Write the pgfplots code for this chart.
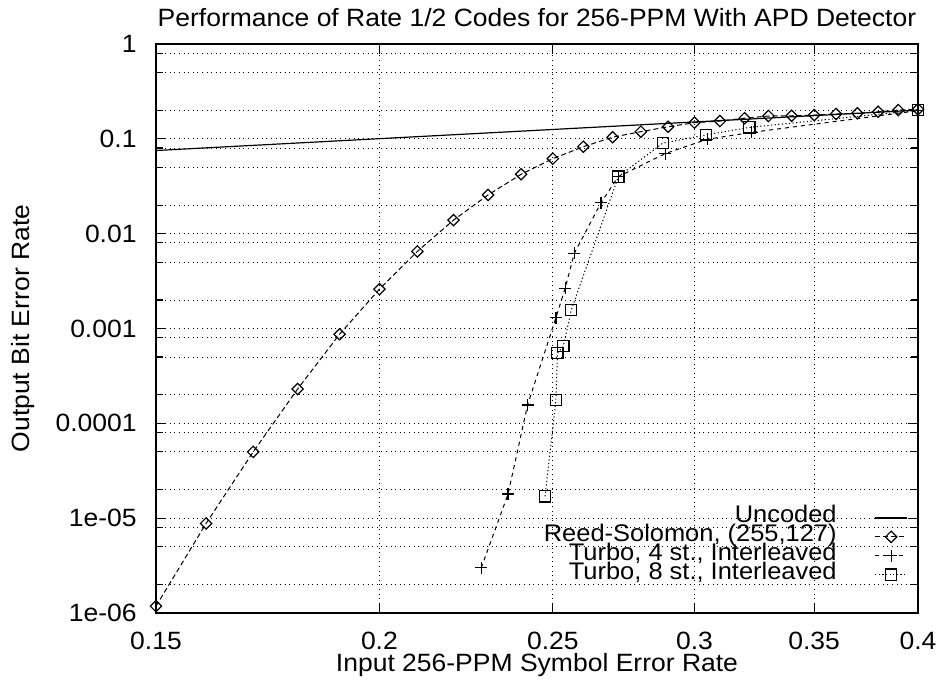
\documentclass[border=0pt]{standalone}
\usepackage{fontspec}
\setmainfont{Liberation Sans}[FakeStretch=1.06]
\usepackage{pgfplots}
\pgfplotsset{compat=1.18}
\begin{document}
\begin{tikzpicture}[font=\fontsize{12.5}{14}\selectfont]
\useasboundingbox (-78pt,-37.5pt) rectangle (393pt,306.5pt);
\begin{axis}[
  at={(0,0)}, anchor=south west,
  scale only axis, width=381pt, height=284.5pt,
  xmode=log, ymode=log,
  xmin=0.15, xmax=0.4, ymin=1e-6, ymax=1,
  xtick={0.15,0.2,0.25,0.3,0.35,0.4},
  xticklabels={0.15,0.2,0.25,0.3,0.35,0.4},
  minor xtick={},
  ytick={1e-6,1e-5,1e-4,1e-3,1e-2,1e-1,1},
  yticklabels={1e-06,1e-05,0.0001,0.001,0.01,0.1,1},
  minor ytick={2e-6,5e-6,8e-6,2e-5,5e-5,8e-5,2e-4,5e-4,8e-4,2e-3,5e-3,8e-3,0.02,0.05,0.08,0.2,0.5,0.8},
  grid=both,
  major grid style={black, line width=0.4pt, dash pattern=on 0.5pt off 1.8pt},
  minor grid style={black, line width=0.4pt, dash pattern=on 0.5pt off 1.8pt},
  tick style={black, line width=0.6pt},
  major tick length=5pt, minor tick length=3.5pt,
  axis line style={line width=0.8pt},
  every tick label/.append style={font=\fontsize{12.5}{14}\selectfont},
  xticklabel style={anchor=north, inner sep=0pt, yshift=-9.5pt},
  yticklabel style={anchor=east, inner sep=0pt, xshift=-9.5pt},
  title={Performance of Rate 1/2 Codes for 256-PPM With APD Detector},
  every axis title/.style={at={(0.5,1.03)}, anchor=base, inner sep=0pt, font=\fontsize{12.5}{14}\selectfont},
  xlabel={Input 256-PPM Symbol Error Rate},
  every axis x label/.style={at={(0.5,-0.1025)}, anchor=base, inner sep=0pt, font=\fontsize{12.5}{14}\selectfont},
  ylabel={Output Bit Error Rate},
  every axis y label/.style={at={(-0.1745,0.5)}, rotate=90, anchor=center, inner sep=0pt, font=\fontsize{12.5}{14}\selectfont},
  legend plot pos=right,
  legend cell align=right,
  legend style={at={(0.987,0.05)}, anchor=south east, draw=none, fill=none, inner sep=0pt,
    column sep=19pt, row sep=0pt, font=\fontsize{12}{13}\selectfont,
    nodes={inner sep=0pt, text height=7.1pt, text depth=2.35pt}},
  legend image code/.code={\draw[mark repeat=2,mark phase=2,#1] plot coordinates {(0cm,0cm) (0.28cm,0cm) (0.56cm,0cm)};},
]
\addplot[black, line width=0.6pt, mark=none] coordinates {
(0.15,0.0753) (0.2,0.1004) (0.25,0.1255) (0.3,0.1506) (0.35,0.1757) (0.4,0.2008)};
\addlegendentry{Uncoded}
\addplot[black, line width=0.5pt, dash pattern=on 2.5pt off 1.5pt, mark=square, mark size=2pt,
  mark options={solid, rotate=45, line width=0.6pt}] coordinates {
(0.15,1.18e-6) (0.16,8.8e-6) (0.17,5.0e-5) (0.18,2.3e-4) (0.19,8.7e-4) (0.20,2.6e-3)
(0.21,6.5e-3) (0.22,0.0139) (0.23,0.0256) (0.24,0.0423) (0.25,0.0618) (0.26,0.0826)
(0.27,0.104) (0.28,0.119) (0.29,0.134) (0.30,0.148) (0.31,0.154) (0.32,0.165)
(0.33,0.174) (0.34,0.175) (0.35,0.178) (0.36,0.183) (0.37,0.186) (0.38,0.193)
(0.39,0.201) (0.40,0.205)};
\addlegendentry{Reed-Solomon, (255,127)}
\addplot[black, line width=0.5pt, dash pattern=on 2pt off 2pt, mark=+, mark size=3pt,
  mark options={solid, line width=0.6pt}] coordinates {
(0.228,3.0e-6) (0.236,1.8e-5) (0.242,1.56e-4) (0.251,1.3e-3) (0.254,2.65e-3)
(0.257,6.2e-3) (0.266,0.0212) (0.272,0.040) (0.289,0.070) (0.305,0.099)
(0.323,0.117) (0.40,0.198)};
\addlegendentry{Turbo, 4 st., Interleaved}
\addplot[black, line width=0.5pt, dash pattern=on 0.6pt off 1.2pt, mark=square, mark size=2.8pt,
  mark options={solid, line width=0.6pt}] coordinates {
(0.2475,1.7e-5) (0.251,1.76e-4) (0.2515,5.5e-4) (0.2534,6.5e-4) (0.256,1.57e-3)
(0.272,0.040) (0.288,0.090) (0.3045,0.110) (0.322,0.132) (0.40,0.200)};
\addlegendentry{Turbo, 8 st., Interleaved}
\end{axis}
\end{tikzpicture}
\end{document}
